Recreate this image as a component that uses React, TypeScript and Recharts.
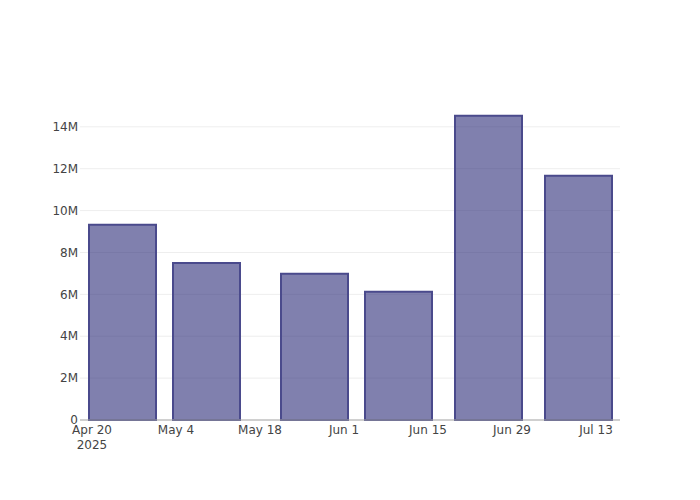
import { BarChart, Bar, XAxis, YAxis, CartesianGrid } from 'recharts'

const dates = ['2025-04-25', '2025-05-09', '2025-05-27', '2025-06-10', '2025-06-25', '2025-07-10']
const values = [9.32e6, 7.5e6, 6.98e6, 6.12e6, 14.53e6, 11.66e6]
const xTicks = ['2025-04-20', '2025-05-04', '2025-05-18', '2025-06-01', '2025-06-15', '2025-06-29', '2025-07-13']
const yTicks = [0, 2e6, 4e6, 6e6, 8e6, 10e6, 12e6, 14e6]
const months = ['Jan', 'Feb', 'Mar', 'Apr', 'May', 'Jun', 'Jul', 'Aug', 'Sep', 'Oct', 'Nov', 'Dec']

const ts = (d: string) => Date.parse(d + 'T00:00:00Z')

const data = dates.map((d, i) => ({ t: ts(d), v: values[i] }))

const font = '"DejaVu Sans", Verdana, sans-serif'

function DateTick({ x, y, payload, index }: any) {
  const d = new Date(payload.value)
  return (
    <g>
      <text x={x} y={y + 14} textAnchor="middle" fill="#444" fontSize={12} fontFamily={font}>
        {`${months[d.getUTCMonth()]} ${d.getUTCDate()}`}
      </text>
      {index === 0 && (
        <text x={x} y={y + 29} textAnchor="middle" fill="#444" fontSize={12} fontFamily={font}>
          {d.getUTCFullYear()}
        </text>
      )}
    </g>
  )
}

export default function App() {
  return (
    <div style={{ position: 'absolute', left: 0, top: 0, width: 700, height: 500, background: '#fff' }}>
      <BarChart width={700} height={500} data={data} margin={{ top: 100, right: 80, left: 0, bottom: 0 }}>
        <CartesianGrid vertical={false} stroke="#eeeeee" strokeWidth={1} horizontalValues={yTicks.slice(1)} />
        <XAxis
          dataKey="t"
          type="number"
          scale="time"
          domain={[ts('2025-04-18'), ts('2025-07-17')]}
          ticks={xTicks.map(ts)}
          tick={<DateTick />}
          tickLine={false}
          tickSize={0}
          tickMargin={0}
          axisLine={{ stroke: '#a0a0a0', strokeWidth: 1 }}
          height={80}
          interval={0}
        />
        <YAxis
          domain={[0, 15.28e6]}
          ticks={yTicks}
          tickFormatter={(v: number) => (v === 0 ? '0' : `${v / 1e6}M`)}
          tick={{ fontSize: 12, fill: '#444', fontFamily: font }}
          axisLine={false}
          tickLine={false}
          tickSize={0}
          tickMargin={2}
          width={80}
          interval={0}
        />
        <Bar
          dataKey="v"
          barSize={67}
          fill="#2b2b78"
          fillOpacity={0.6}
          stroke="#4a4a8c"
          strokeWidth={2}
          isAnimationActive={false}
        />
      </BarChart>
    </div>
  )
}
